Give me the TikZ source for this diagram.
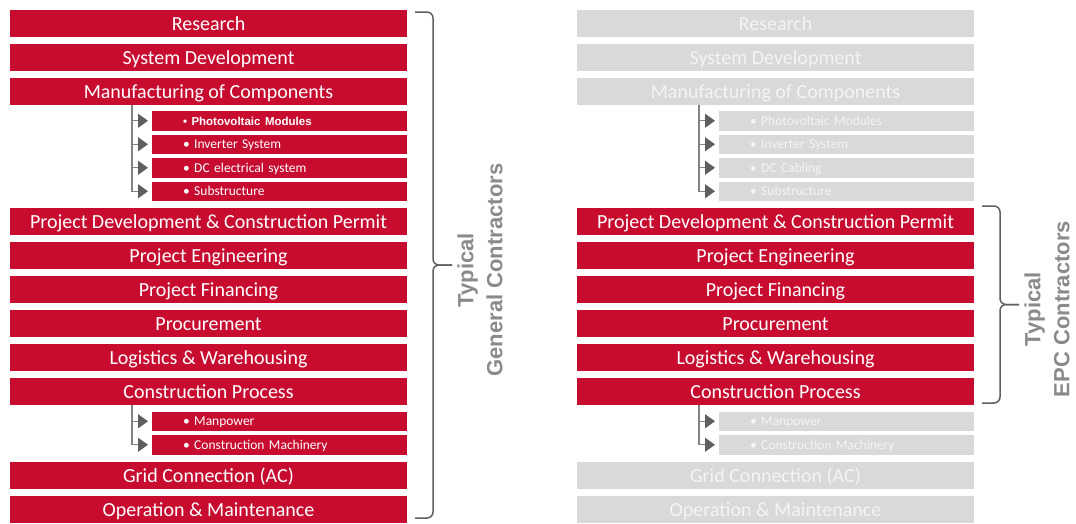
\documentclass[tikz,border=0pt]{standalone}
\usepackage{fontspec}
\setmainfont{Carlito}
\newfontfamily\arialfont{Liberation Sans}
\usetikzlibrary{arrows.meta,positioning}
\definecolor{stagered}{RGB}{200,12,48}
\definecolor{stagegray}{RGB}{217,217,217}
\definecolor{fadedtext}{RGB}{244,244,244}
\definecolor{feedgray}{RGB}{95,95,95}
\definecolor{stemgray}{RGB}{130,130,130}
\definecolor{labelgray}{RGB}{138,138,138}
\tikzset{
stage/.style={fill=stagered,text=white,minimum width=397pt,minimum height=27pt,inner sep=0pt,outer sep=0pt,text height=14pt,text depth=0pt,font=\fontsize{20}{24}\selectfont},
stageoff/.style={stage,fill=stagegray,text=fadedtext},
part/.style={fill=stagered,text=white,minimum width=255pt,minimum height=19.5pt,inner sep=0pt,outer sep=0pt,text width=193pt,align=left,text height=9pt,text depth=0pt,font=\fontsize{13.5}{16}\selectfont},
partoff/.style={part,fill=stagegray,text=fadedtext},
feed/.style={-{Triangle[length=10pt,width=14pt,color=feedgray]},draw=stemgray,line width=1.2pt,shorten >=4pt},
bracket/.style={draw=feedgray,line width=1.5pt,rounded corners=6pt},
bracelabel/.style={rotate=90,align=center,text=labelgray,font=\arialfont\bfseries\fontsize{22}{29}\selectfont}
}

\begin{document}
\begin{tikzpicture}[x=1pt,y=-1pt]
\useasboundingbox (0,0) rectangle (1076,523);

% general contractors: whole chain
\node[stage] (lresearch) at (208.5,23) {Research};
\node[stage,below=7pt of lresearch] (lsysdev) {System Development};
\node[stage,below=7pt of lsysdev] (lmanuf) {Manufacturing of Components};
\node[part,below left=6.5pt and 0pt of lmanuf.south east] (lpv) {{\arialfont\bfseries\fontsize{11.5}{14}\selectfont\textbullet\ Photovoltaic Modules}};
\node[part,below=4pt of lpv] (linverter) {\textbullet\ Inverter System};
\node[part,below=4pt of linverter] (ldc) {\textbullet\ DC electrical system};
\node[part,below=4pt of ldc] (lsubstr) {\textbullet\ Substructure};
\coordinate (lgap1) at (lmanuf.south |- lsubstr.south);
\node[stage,below=7pt of lgap1] (lprojdev) {Project Development \& Construction Permit};
\node[stage,below=7pt of lprojdev] (lengineering) {Project Engineering};
\node[stage,below=7pt of lengineering] (lfinancing) {Project Financing};
\node[stage,below=7pt of lfinancing] (lprocurement) {Procurement};
\node[stage,below=7pt of lprocurement] (llogistics) {Logistics \& Warehousing};
\node[stage,below=7pt of llogistics] (lconstruction) {Construction Process};
\node[part,below left=6.5pt and 0pt of lconstruction.south east] (lmanpower) {\textbullet\ Manpower};
\node[part,below=4pt of lmanpower] (lmachinery) {\textbullet\ Construction Machinery};
\coordinate (lgap2) at (lconstruction.south |- lmachinery.south);
\node[stage,below=7pt of lgap2] (lgrid) {Grid Connection (AC)};
\node[stage,below=7pt of lgrid] (lom) {Operation \& Maintenance};

\coordinate (ltap1) at ([xshift=122pt]lmanuf.south west);
\draw[feed] (ltap1) |- (lpv);
\draw[feed] (ltap1) |- (linverter);
\draw[feed] (ltap1) |- (ldc);
\draw[feed] (ltap1) |- (lsubstr);
\coordinate (ltap2) at ([xshift=122pt]lconstruction.south west);
\draw[feed] (ltap2) |- (lmanpower);
\draw[feed] (ltap2) |- (lmachinery);

\draw[bracket] (415,12) -- (433,12) -- (433,265) -- (452,265);
\draw[bracket] (415,518) -- (433,518) -- (433,265) -- (452,265);
\node[bracelabel] (lgroup) at (480,270) {Typical\\General Contractors};

% epc contractors: middle part only
\node[stageoff] (rresearch) at (775.5,23) {Research};
\node[stageoff,below=7pt of rresearch] (rsysdev) {System Development};
\node[stageoff,below=7pt of rsysdev] (rmanuf) {Manufacturing of Components};
\node[partoff,below left=6.5pt and 0pt of rmanuf.south east] (rpv) {\textbullet\ Photovoltaic Modules};
\node[partoff,below=4pt of rpv] (rinverter) {\textbullet\ Inverter System};
\node[partoff,below=4pt of rinverter] (rdc) {\textbullet\ DC Cabling};
\node[partoff,below=4pt of rdc] (rsubstr) {\textbullet\ Substructure};
\coordinate (rgap1) at (rmanuf.south |- rsubstr.south);
\node[stage,below=7pt of rgap1] (rprojdev) {Project Development \& Construction Permit};
\node[stage,below=7pt of rprojdev] (rengineering) {Project Engineering};
\node[stage,below=7pt of rengineering] (rfinancing) {Project Financing};
\node[stage,below=7pt of rfinancing] (rprocurement) {Procurement};
\node[stage,below=7pt of rprocurement] (rlogistics) {Logistics \& Warehousing};
\node[stage,below=7pt of rlogistics] (rconstruction) {Construction Process};
\node[partoff,below left=6.5pt and 0pt of rconstruction.south east] (rmanpower) {\textbullet\ Manpower};
\node[partoff,below=4pt of rmanpower] (rmachinery) {\textbullet\ Construction Machinery};
\coordinate (rgap2) at (rconstruction.south |- rmachinery.south);
\node[stageoff,below=7pt of rgap2] (rgrid) {Grid Connection (AC)};
\node[stageoff,below=7pt of rgrid] (rom) {Operation \& Maintenance};

\coordinate (rtap1) at ([xshift=122pt]rmanuf.south west);
\draw[feed] (rtap1) |- (rpv);
\draw[feed] (rtap1) |- (rinverter);
\draw[feed] (rtap1) |- (rdc);
\draw[feed] (rtap1) |- (rsubstr);
\coordinate (rtap2) at ([xshift=122pt]rconstruction.south west);
\draw[feed] (rtap2) |- (rmanpower);
\draw[feed] (rtap2) |- (rmachinery);

\draw[bracket] (982,206) -- (1000,206) -- (1000,304.5) -- (1019,304.5);
\draw[bracket] (982,403) -- (1000,403) -- (1000,304.5) -- (1019,304.5);
\node[bracelabel] (rgroup) at (1047,309) {Typical\\EPC Contractors};
\end{tikzpicture}
\end{document}
